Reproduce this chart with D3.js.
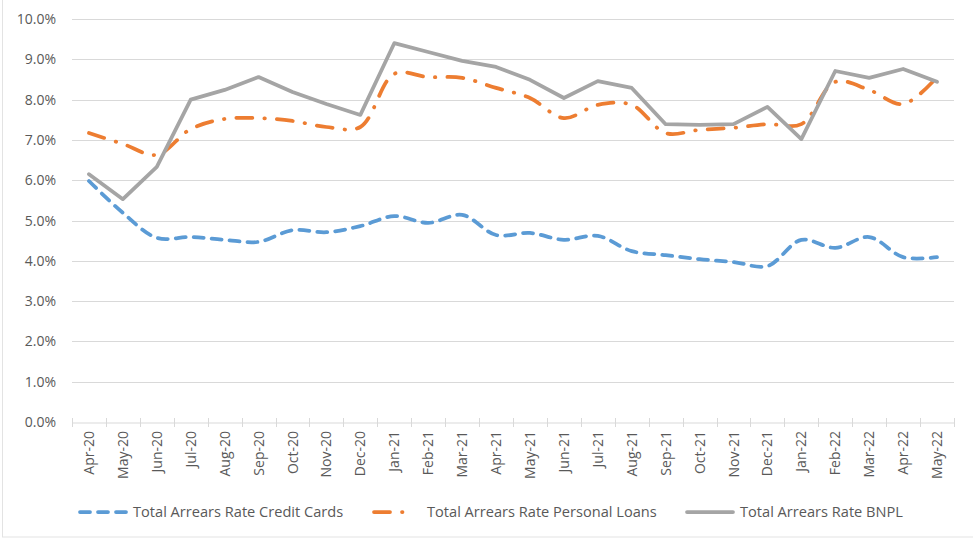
<!DOCTYPE html>
<head>
<meta charset="utf-8">
<script src="https://d3js.org/d3.v7.min.js"></script>
<style>
  body { margin: 0; background: #fff; }
  text { font-family: "Open Sans", sans-serif; fill: #595959; }
</style>
</head>
<body>
<div id="chart"></div>
<script>

// categories on the x axis
var months = ["Apr-20", "May-20", "Jun-20", "Jul-20", "Aug-20", "Sep-20", "Oct-20", "Nov-20", "Dec-20",
  "Jan-21", "Feb-21", "Mar-21", "Apr-21", "May-21", "Jun-21", "Jul-21", "Aug-21", "Sep-21", "Oct-21",
  "Nov-21", "Dec-21", "Jan-22", "Feb-22", "Mar-22", "Apr-22", "May-22"];

// arrears rates in percent
var creditCards = [5.98, 5.19, 4.57, 4.59, 4.52, 4.47, 4.76, 4.71, 4.86, 5.11, 4.94, 5.14, 4.64,
  4.69, 4.52, 4.62, 4.24, 4.14, 4.04, 3.97, 3.87, 4.52, 4.32, 4.59, 4.09, 4.09];
var personalLoans = [7.17, 6.90, 6.63, 7.27, 7.52, 7.54, 7.47, 7.32, 7.32, 8.64, 8.56, 8.54, 8.29,
  8.04, 7.54, 7.87, 7.87, 7.17, 7.25, 7.30, 7.39, 7.39, 8.44, 8.24, 7.89, 8.56];
var bnpl = [6.15, 5.53, 6.33, 8.00, 8.24, 8.56, 8.19, 7.89, 7.62, 9.40, 9.18, 8.96, 8.81,
  8.49, 8.04, 8.46, 8.29, 7.39, 7.37, 7.39, 7.82, 7.02, 8.71, 8.54, 8.76, 8.44];

var yTicks = [0, 1, 2, 3, 4, 5, 6, 7, 8, 9, 10];

var seriesNames = ["Total Arrears Rate Credit Cards", "Total Arrears Rate Personal Loans", "Total Arrears Rate BNPL"];

var width = 973,
    height = 540;

var svg = d3.select("#chart")
    .append("svg")
    .attr("width", width)
    .attr("height", height);

// faint outer frame of the chart
svg.append("rect")
    .attr("x", 2.5).attr("y", -5)
    .attr("width", width + 10).attr("height", 542)
    .attr("fill", "none")
    .attr("stroke", "#e3e3e3");

// plot area edges
var plotLeft = 72, plotRight = 954, plotTop = 19, plotBottom = 422;

var x = d3.scaleBand().domain(months).range([plotLeft, plotRight]);
var y = d3.scaleLinear().domain([0, 10]).range([plotBottom, plotTop]);

// gridlines
svg.append("g")
    .selectAll("line")
    .data(yTicks.slice(1))
    .enter().append("line")
    .attr("x1", plotLeft).attr("x2", plotRight)
    .attr("y1", d => Math.round(y(d)) + 0.5)
    .attr("y2", d => Math.round(y(d)) + 0.5)
    .attr("stroke", "#d9d9d9");

// y labels
svg.append("g")
    .selectAll("text")
    .data(yTicks)
    .enter().append("text")
    .attr("x", 56)
    .attr("y", d => y(d) + 5)
    .attr("text-anchor", "end")
    .attr("font-size", 14)
    .text(d => d.toFixed(1) + "%");

// x axis line
var xAxis = d3.axisBottom(x).tickSize(0).tickFormat("");
var axisG = svg.append("g")
    .attr("transform", "translate(0," + (plotBottom + 0.5) + ")")
    .call(xAxis);
axisG.select(".domain").attr("stroke", "#d9d9d9");

// tick marks between categories
svg.append("g")
    .selectAll("line")
    .data(months.concat(["end"]))
    .enter().append("line")
    .attr("x1", (d, i) => Math.round(plotLeft + i * x.step()) + 0.5)
    .attr("x2", (d, i) => Math.round(plotLeft + i * x.step()) + 0.5)
    .attr("y1", plotBottom - 4).attr("y2", plotBottom + 5)
    .attr("stroke", "#d9d9d9");

svg.append("g")
    .selectAll("text")
    .data(months)
    .enter().append("text")
    .attr("transform", d => "translate(" + (x(d) + x.bandwidth() / 2 + 5) + "," + (plotBottom + 9) + ") rotate(-90)")
    .attr("text-anchor", "end")
    .attr("font-size", 14)
    .text(d => d);

// lines
function cx(i) { return x(months[i]) + x.bandwidth() / 2; }

var styles = [
  { data: creditCards, color: "#5b9bd5", dash: "10,8", curve: d3.curveCatmullRom },
  { data: personalLoans, color: "#ed7d31", dash: "16,12,0.5,12", curve: d3.curveCatmullRom },
  { data: bnpl, color: "#a5a5a5", dash: null, curve: d3.curveLinear }
];

var draw = [styles[1], styles[0], styles[2]];
draw.forEach(function(s) {
  var line = d3.line()
      .x((d, i) => cx(i))
      .y(d => y(d))
      .curve(s.curve);
  svg.append("path")
      .datum(s.data)
      .attr("d", line)
      .attr("fill", "none")
      .attr("stroke", s.color)
      .attr("stroke-width", 3.75)
      .attr("stroke-linecap", "round")
      .attr("stroke-linejoin", "round")
      .attr("stroke-dasharray", s.dash);
});

// legend
var legendX = [80, 374, 687];
var legendY = 512;
var legend = svg.append("g")
    .selectAll("g")
    .data(styles)
    .enter().append("g")
    .attr("transform", (d, i) => "translate(" + legendX[i] + "," + legendY + ")");

legend.append("line")
    .attr("x1", 0).attr("x2", (d, i) => i == 1 ? 34 : 46)
    .attr("y1", 0).attr("y2", 0)
    .attr("stroke", d => d.color)
    .attr("stroke-width", 3.75)
    .attr("stroke-linecap", "round")
    .attr("stroke-dasharray", d => d.dash);

legend.append("text")
    .attr("x", 53)
    .attr("y", 5)
    .attr("font-size", 14.6)
    .text((d, i) => seriesNames[i]);

</script>
</body>
